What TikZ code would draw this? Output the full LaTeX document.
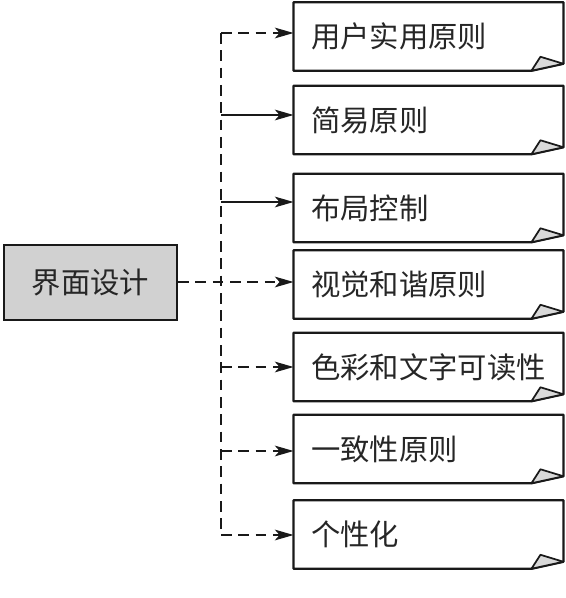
\documentclass[tikz,border=0pt]{standalone}
\usepackage{fontspec}
\newfontfamily\cjk{Noto Sans CJK SC}
\usetikzlibrary{arrows.meta}
\begin{document}
\begin{tikzpicture}[x=0.75pt,y=-0.75pt,
  conn/.style={line width=1.4pt, draw=black!90},
  dsh/.style={dash pattern=on 8pt off 5pt},
  arr/.style={-{Stealth[length=14pt,width=8pt,inset=3.5pt]}},
  itembox/.style={draw=none, minimum width=200.25pt, minimum height=51pt, inner xsep=13pt, inner ysep=0pt,
    text width=176pt, align=left, font=\cjk\fontsize{22pt}{26pt}\selectfont, text=black!85},
  mainbox/.style={draw=black!90, line width=1.7pt, fill=black!18, minimum width=129.75pt, minimum height=56.25pt,
    inner sep=0pt, font=\cjk\fontsize{22pt}{26pt}\selectfont, text=black!85},
  boxline/.style={draw=black!90, line width=1.7pt, line join=round},
  foldfill/.style={draw=black!90, line width=1.3pt, fill=black!15, line join=round}]
\useasboundingbox (0,0) rectangle (565,598);

\node[mainbox] (m) at (90.5,282.5) {界面设计};

\node[itembox] (b1) at (428.5,36.5) {\raisebox{-2.5pt}{用户实用原则}};
\node[itembox] (b2) at (428.5,120) {\raisebox{-2.5pt}{简易原则}};
\node[itembox] (b3) at (428.5,208) {\raisebox{-3pt}{布局控制}};
\node[itembox] (b4) at (428.5,284.5) {\raisebox{-1.5pt}{视觉和谐原则}};
\node[itembox] (b5) at (428.5,367) {\raisebox{-1.5pt}{色彩和文字可读性}};
\node[itembox] (b6) at (428.5,449) {\raisebox{-1.5pt}{一致性原则}};
\node[itembox] (b7) at (428.5,534.5) {\raisebox{-4pt}{个性化}};

\foreach \b in {b1,b2,b3,b4,b5,b6,b7}{
  \draw[boxline] ([yshift=5.25pt]\b.south east) -- (\b.north east) -- (\b.north west) -- (\b.south west) -- ([xshift=-24pt]\b.south east) -- cycle;
  \draw[foldfill] ([xshift=-24pt]\b.south east) -- ([xshift=-17.25pt,yshift=10.5pt]\b.south east) -- ([yshift=5.25pt]\b.south east) -- cycle;
}

\coordinate (t1) at (221,33);
\coordinate (t2) at (221,115);
\coordinate (t3) at (221,202);
\coordinate (t4) at (221,282);
\coordinate (t5) at (221,367);
\coordinate (t6) at (221,451);
\coordinate (t7) at (221,535);

\draw[conn,dsh] (t1) -- (t7);
\draw[conn,dsh,arr] (t1) -- (t1 -| b1.west);
\draw[conn,arr] (t2) -- (t2 -| b2.west);
\draw[conn,arr] (t3) -- (t3 -| b3.west);
\draw[conn,dsh,arr] (m.east |- t4) -- (t4 -| b4.west);
\draw[conn,dsh,arr] (t5) -- (t5 -| b5.west);
\draw[conn,dsh,arr] (t6) -- (t6 -| b6.west);
\draw[conn,dsh,arr] (t7) -- (t7 -| b7.west);
\end{tikzpicture}
\end{document}
